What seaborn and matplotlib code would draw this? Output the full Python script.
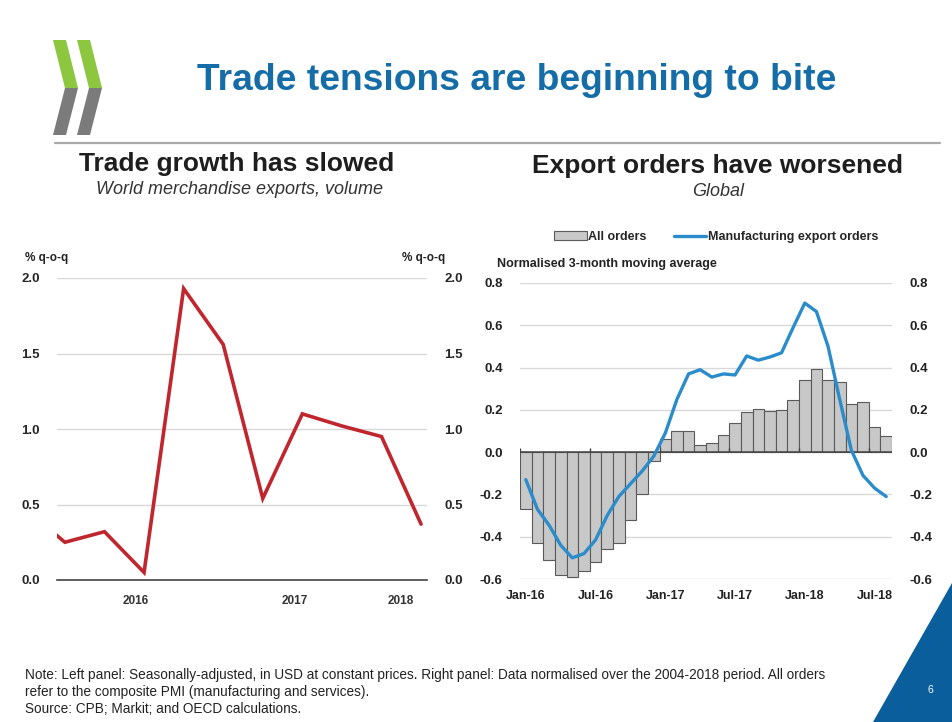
import numpy as np
import pandas as pd
import matplotlib
matplotlib.use("Agg")
import matplotlib.pyplot as plt
import seaborn as sns
from matplotlib.patches import Polygon, Patch
from matplotlib.lines import Line2D
from matplotlib.transforms import Affine2D

# ---- Left panel: world merchandise exports, volume (% q-o-q)
quarters = ["2015Q4", "2016Q1", "2016Q2", "2016Q3", "2016Q4", "2017Q1",
            "2017Q2", "2017Q3", "2017Q4", "2018Q1", "2018Q2"]
trade_growth = [0.47, 0.25, 0.32, 0.05, 1.93, 1.56, 0.54, 1.10, 1.02, 0.95, 0.37]
year_labels = ["2016", "2017", "2018"]
left_yticks = [0.0, 0.5, 1.0, 1.5, 2.0]

# ---- Right panel: global export orders, normalised 3-month moving average
months = pd.date_range("2016-01-01", periods=32, freq="MS").strftime("%b-%y").tolist()
all_orders = [-0.27, -0.43, -0.51, -0.58, -0.59, -0.56, -0.52, -0.46, -0.43, -0.32,
              -0.20, -0.04, 0.06, 0.10, 0.10, 0.035, 0.045, 0.08, 0.14, 0.19,
              0.205, 0.195, 0.20, 0.245, 0.34, 0.395, 0.34, 0.33, 0.23, 0.235,
              0.12, 0.075]
manuf_export_orders = [-0.13, -0.27, -0.345, -0.44, -0.50, -0.48, -0.415, -0.30,
                       -0.21, -0.15, -0.09, -0.02, 0.09, 0.25, 0.37, 0.39, 0.355,
                       0.37, 0.365, 0.455, 0.435, 0.45, 0.47, 0.59, 0.705, 0.665,
                       0.50, 0.25, 0.01, -0.11, -0.17, -0.21]
right_yticks = [-0.6, -0.4, -0.2, 0.0, 0.2, 0.4, 0.6, 0.8]

W, H = 952, 722
sns.set_style("white")
plt.rcParams["font.family"] = ["Liberation Sans", "DejaVu Sans"]
LBL = ["Liberation Sans", "DejaVu Sans"]

RED = "#C0262D"
BLUE = "#2B8CCB"
TITLE_BLUE = "#146DA6"
GRID = "#D9D9D9"

fig = plt.figure(figsize=(W / 100, H / 100), dpi=100)
fig.patch.set_facecolor("white")

# pixel -> figure-fraction helper (origin top-left)
px = Affine2D().scale(1 / W, -1 / H).translate(0, 1) + fig.transFigure


def rect(x0, y_top, x1, y_bot):
    return [x0 / W, 1 - y_bot / H, (x1 - x0) / W, (y_bot - y_top) / H]


# ---- header: logo, title, rule
logo_green = "#8DC63F"
logo_grey = "#7B7B7B"
band = 13
for dx in (0, 24):
    x0 = 53 + dx
    fig.patches.append(Polygon([(x0, 40), (x0 + band, 40), (x0 + band + 12, 88), (x0 + 12, 88)],
                               closed=True, transform=px, facecolor=logo_green, edgecolor="none"))
    fig.patches.append(Polygon([(x0 + 12, 88), (x0 + band + 12, 88), (x0 + band, 135), (x0, 135)],
                               closed=True, transform=px, facecolor=logo_grey, edgecolor="none"))

fig.text(517, 80, "Trade tensions are beginning to bite", transform=px, ha="center",
         va="center", fontsize=26.8, fontweight="bold", color=TITLE_BLUE)
fig.add_artist(Line2D([55, 940], [143, 143], transform=px, color="#AAAAAA", lw=1.6))

fig.text(237, 164, "Trade growth has slowed", transform=px, ha="center", va="center",
         fontsize=19, fontweight="bold", color="#1E1E1E")
fig.text(239, 190, "World merchandise exports, volume", transform=px, ha="center",
         va="center", fontsize=13, style="italic", color="#333333")
fig.text(718, 166, "Export orders have worsened", transform=px, ha="center", va="center",
         fontsize=19, fontweight="bold", color="#1E1E1E")
fig.text(718, 192, "Global", transform=px, ha="center", va="center", fontsize=13,
         style="italic", color="#333333")

# ---- left panel
axl = fig.add_axes(rect(57, 278, 427, 580))
pos = np.arange(len(quarters)) - 1  # 2016Q1 at 0
dfl = pd.DataFrame({"pos": pos, "growth": trade_growth})
sns.lineplot(data=dfl, x="pos", y="growth", ax=axl, color=RED, lw=2.6,
             solid_joinstyle="miter")
bounds = [-0.2, 3.8, 7.8, 9.15]
axl.set_xlim(bounds[0], bounds[-1])
axl.set_ylim(0, 2.0)
axl.set_yticks(left_yticks)
axl.set_yticklabels([f"{v:.1f}" for v in left_yticks])
axl.yaxis.grid(True, color=GRID, lw=1)
axl.set_axisbelow(True)
axl.set_xticks(bounds[:3])
axl.set_xticklabels([])
axl.set_xticks([(a + b) / 2 for a, b in zip(bounds[:-1], bounds[1:])], minor=True)
axl.set_xticklabels(year_labels, minor=True)
axl.tick_params(axis="x", which="major", direction="inout", length=5, width=1,
                color="#444444")
axl.tick_params(axis="x", which="minor", length=0, pad=11, labelsize=8.5,
                labelcolor="#333333")
axl.tick_params(axis="y", left=False, right=False, labelleft=True, labelright=True,
                pad=9, labelsize=9.5)
for s in ("top", "left", "right"):
    axl.spines[s].set_visible(False)
axl.spines["bottom"].set_color("#444444")
axl.spines["bottom"].set_linewidth(1.2)
axl.set_xlabel("")
axl.set_ylabel("")
for lab in axl.get_xticklabels(minor=True) + axl.get_yticklabels():
    lab.set_family(LBL)
    lab.set_fontweight("bold")
fig.text(25, 258, "% q-o-q", transform=px, ha="left", va="center", fontsize=8.5,
         fontweight="bold", color="#222222")
fig.text(445, 258, "% q-o-q", transform=px, ha="right", va="center", fontsize=8.5,
         fontweight="bold", color="#222222")

# ---- right panel
axr = fig.add_axes(rect(520, 283, 892, 579))
dfr = pd.DataFrame({"month": months, "pos": np.arange(len(months)),
                    "all": all_orders, "manuf": manuf_export_orders})
sns.barplot(data=dfr, x="month", y="all", ax=axr, color="#C8C8C8", saturation=1,
            width=1.0, edgecolor="#5A5A5A", linewidth=0.8, zorder=2)
sns.lineplot(data=dfr, x="pos", y="manuf", ax=axr, color=BLUE, lw=2.4, zorder=4)
axr.axhline(0, color="#444444", lw=1.1, zorder=3)
axr.set_xlim(-0.5, len(months) - 0.5)
axr.set_ylim(-0.6, 0.8)
axr.set_yticks(right_yticks)
axr.set_yticklabels([f"{v:.1f}" for v in right_yticks])
axr.yaxis.grid(True, color=GRID, lw=1, zorder=0)
axr.set_axisbelow(True)
step = 6
axr.set_xticks(np.arange(0, len(months), step))
axr.set_xticklabels(months[::step])
axr.tick_params(axis="x", length=0, pad=8, labelsize=9)
axr.tick_params(axis="y", left=False, right=False, labelleft=True, labelright=True,
                pad=9, labelsize=9.5)
# half-year tick marks on the zero line
axr.vlines(np.arange(0, len(months), step) - 0.5, 0, 0.02, color="#444444", lw=1, zorder=3)
for s in ("top", "left", "right", "bottom"):
    axr.spines[s].set_visible(False)
axr.set_xlabel("")
axr.set_ylabel("")
for lab in axr.get_xticklabels() + axr.get_yticklabels():
    lab.set_family(LBL)
    lab.set_fontweight("bold")
    lab.set_color("#222222")
fig.text(497, 264, "Normalised 3-month moving average", transform=px, ha="left",
         va="center", fontsize=9, fontweight="bold", color="#222222")

handles = [Patch(facecolor="#C8C8C8", edgecolor="#5A5A5A", linewidth=0.8),
           Line2D([0], [0], color=BLUE, lw=2.4)]
leg = fig.legend(handles, ["All orders", "Manufacturing export orders"], loc="center",
                 bbox_to_anchor=(716 / W, 1 - 237 / H), ncol=2, frameon=False,
                 handlelength=2.6, handleheight=0.7, handletextpad=0.1, columnspacing=2.2,
                 prop={"weight": "bold", "size": 9})

# ---- footer
notes = ["Note: Left panel: Seasonally-adjusted, in USD at constant prices. Right panel: "
         "Data normalised over the 2004-2018 period. All orders",
         "refer to the composite PMI (manufacturing and services).",
         "Source: CPB; Markit; and OECD calculations."]
for i, line in enumerate(notes):
    fig.text(25, 675 + 17 * i, line, transform=px, ha="left", va="center", fontsize=9.8,
             color="#222222")

fig.patches.append(Polygon([(873, 722), (952, 583), (952, 722)], closed=True,
                           transform=px, facecolor="#0B5E9C", edgecolor="none"))
fig.text(930, 690, "6", transform=px, ha="center", va="center", fontsize=7.5,
         color="white")

fig.savefig("out.png", dpi=100, facecolor="white")
